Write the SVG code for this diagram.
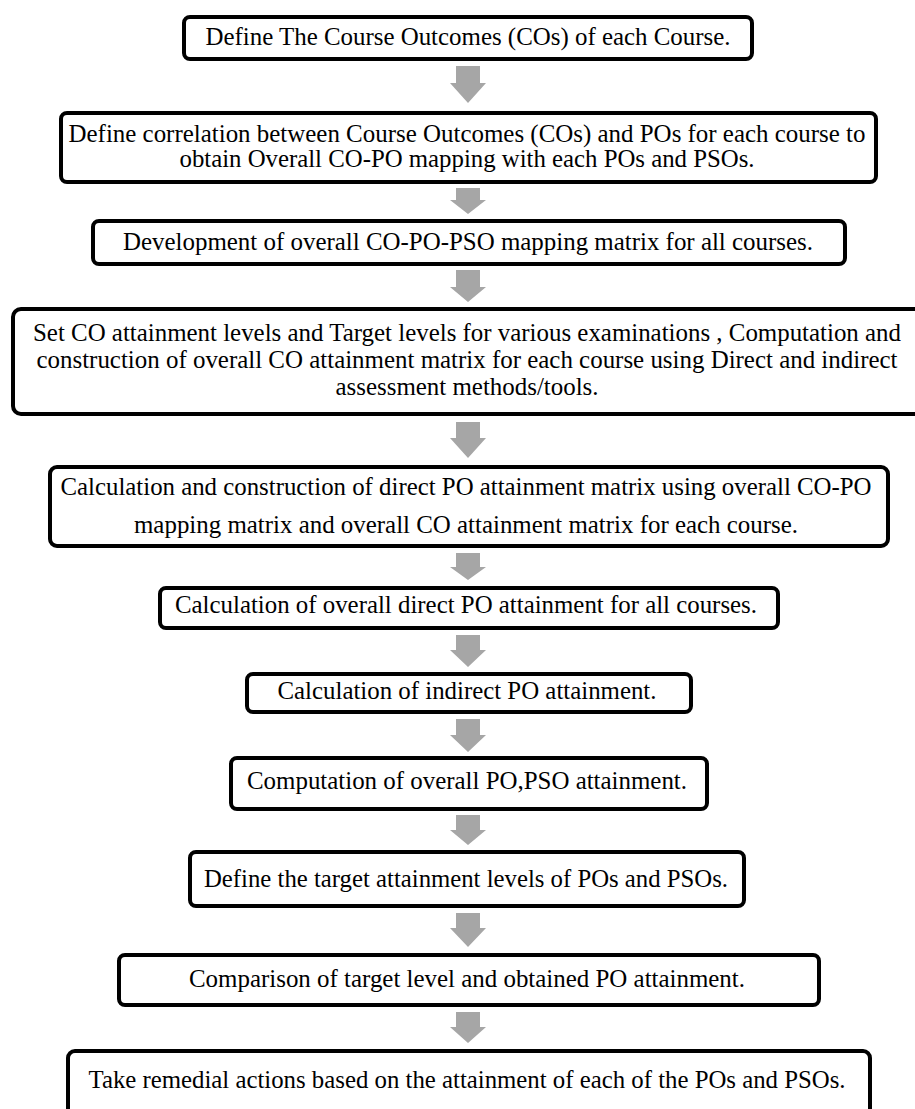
<svg xmlns="http://www.w3.org/2000/svg" width="915" height="1109" viewBox="0 0 915 1109">
<defs>
<style>
.box{fill:#ffffff;stroke:#000000;stroke-width:4}
.t{font-family:"Liberation Serif","Times New Roman",serif;font-size:25px;fill:#000000;text-anchor:middle}
.arr{fill:#a6a6a6;stroke:none}
</style>
</defs>
<rect width="915" height="1109" fill="#ffffff"/>
<g id="connectors">
<path class="arr" d="M456,66 H480 V83 H486 L468,103 L450,83 H456 Z"/>
<path class="arr" d="M456,188 H480 V200 H486 L468,214 L450,200 H456 Z"/>
<path class="arr" d="M456,270 H480 V287 H486 L468,302 L450,287 H456 Z"/>
<path class="arr" d="M456,422 H480 V438 H486 L468,458 L450,438 H456 Z"/>
<path class="arr" d="M456,553 H480 V567 H486 L468,580 L450,567 H456 Z"/>
<path class="arr" d="M456,635 H480 V650 H486 L468,667 L450,650 H456 Z"/>
<path class="arr" d="M456,719 H480 V735 H486 L468,752 L450,735 H456 Z"/>
<path class="arr" d="M456,815 H480 V830 H486 L468,845 L450,830 H456 Z"/>
<path class="arr" d="M456,913 H480 V928 H486 L468,947 L450,928 H456 Z"/>
<path class="arr" d="M456,1012 H480 V1027 H486 L468,1043 L450,1027 H456 Z"/>
</g>
<g id="n1">
<rect class="box" x="184" y="17" width="568" height="42" rx="6"/>
<text class="t" x="468" y="45" textLength="525" lengthAdjust="spacingAndGlyphs">Define The Course Outcomes (COs) of each Course.</text>
</g>
<g id="n2">
<rect class="box" x="61" y="113" width="815" height="69" rx="6"/>
<text class="t" x="467" y="142" textLength="797" lengthAdjust="spacingAndGlyphs">Define correlation between Course Outcomes (COs) and POs for each course to</text>
<text class="t" x="467" y="167" textLength="575" lengthAdjust="spacingAndGlyphs">obtain Overall CO-PO mapping with each POs and PSOs.</text>
</g>
<g id="n3">
<rect class="box" x="93" y="221" width="752" height="43" rx="6"/>
<text class="t" x="468" y="250" textLength="690" lengthAdjust="spacingAndGlyphs">Development of overall CO-PO-PSO mapping matrix for all courses.</text>
</g>
<g id="n4">
<rect class="box" x="13" y="309" width="910" height="105" rx="8"/>
<text class="t" x="467" y="341" textLength="868" lengthAdjust="spacingAndGlyphs">Set CO attainment levels and Target levels for various examinations , Computation and</text>
<text class="t" x="467" y="368" textLength="861" lengthAdjust="spacingAndGlyphs">construction of overall CO attainment matrix for each course using Direct and indirect</text>
<text class="t" x="467" y="395" textLength="263" lengthAdjust="spacingAndGlyphs">assessment methods/tools.</text>
</g>
<g id="n5">
<rect class="box" x="50" y="467" width="838" height="79" rx="7"/>
<text class="t" x="466" y="495" textLength="811" lengthAdjust="spacingAndGlyphs">Calculation and construction of direct PO attainment matrix using overall CO-PO</text>
<text class="t" x="466" y="533" textLength="664" lengthAdjust="spacingAndGlyphs">mapping matrix and overall CO attainment matrix for each course.</text>
</g>
<g id="n6">
<rect class="box" x="160" y="588" width="618" height="40" rx="6"/>
<text class="t" x="466" y="613" textLength="582" lengthAdjust="spacingAndGlyphs">Calculation of overall direct PO attainment for all courses.</text>
</g>
<g id="n7">
<rect class="box" x="247" y="674" width="444" height="38" rx="6"/>
<text class="t" x="467" y="699" textLength="379" lengthAdjust="spacingAndGlyphs">Calculation of indirect PO attainment.</text>
</g>
<g id="n8">
<rect class="box" x="231" y="758" width="476" height="51" rx="6"/>
<text class="t" x="467" y="789" textLength="440" lengthAdjust="spacingAndGlyphs">Computation of overall PO,PSO attainment.</text>
</g>
<g id="n9">
<rect class="box" x="190" y="852" width="554" height="54" rx="6"/>
<text class="t" x="466" y="887" textLength="524" lengthAdjust="spacingAndGlyphs">Define the target attainment levels of POs and PSOs.</text>
</g>
<g id="n10">
<rect class="box" x="119" y="955" width="700" height="50" rx="6"/>
<text class="t" x="467" y="987" textLength="556" lengthAdjust="spacingAndGlyphs">Comparison of target level and obtained PO attainment.</text>
</g>
<g id="n11">
<rect class="box" x="68" y="1051" width="802" height="80" rx="7"/>
<text class="t" x="467" y="1088" textLength="757" lengthAdjust="spacingAndGlyphs">Take remedial actions based on the attainment of each of the POs and PSOs.</text>
</g>
</svg>
